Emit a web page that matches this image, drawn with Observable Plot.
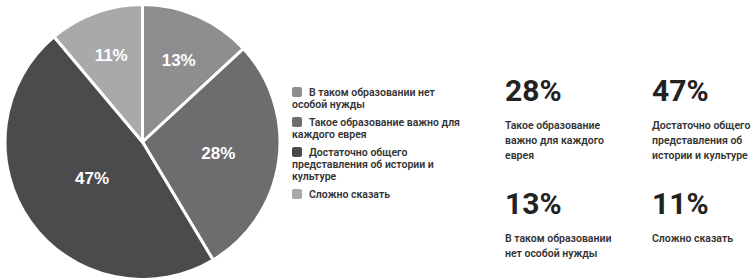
<!DOCTYPE html>
<html>
<head>
<meta charset="utf-8">
<script src="https://cdn.jsdelivr.net/npm/d3@7"></script>
<script src="https://cdn.jsdelivr.net/npm/@observablehq/plot@0.6"></script>
<style>
  html, body { margin: 0; padding: 0; background: #fff; }
  #wrap { position: relative; width: 755px; height: 278px; overflow: hidden; font-family: Roboto, "Noto Sans", sans-serif; }
  #pie { position: absolute; left: 0; top: 0; }
  #legend { position: absolute; left: 292px; top: 87px; width: 190px; }
  .li { font-size: 10.5px; line-height: 12px; font-weight: 600; color: #333; white-space: pre; margin-bottom: 6px; }
  .sw { display: inline-block; width: 10px; height: 10px; border-radius: 2px; margin-right: 7px; vertical-align: -1px; }
  .card { position: absolute; }
  .num { font-size: 30px; line-height: 30px; font-weight: 700; color: #222; }
  .desc { font-size: 10.5px; line-height: 15px; font-weight: 600; color: #333; white-space: pre; margin-top: 12px; }
</style>
</head>
<body>
<div id="wrap">
  <div id="pie"></div>
  <div id="legend"></div>
</div>
<script>
// ---- data ----
const categories = [
  "В таком образовании нет особой нужды",
  "Такое образование важно для каждого еврея",
  "Достаточно общего представления об истории и культуре",
  "Сложно сказать"
];
const values = [13, 28, 47, 11];
const colors = ["#8e8e90", "#6d6d6f", "#4b4b4d", "#a9a9ab"];
const legendLines = [
  "В таком образовании нет\nособой нужды",
  "Такое образование важно для\nкаждого еврея",
  "Достаточно общего\nпредставления об истории и\nкультуре",
  "Сложно сказать"
];
const cardLines = [
  "В таком образовании\nнет особой нужды",
  "Такое образование\nважно для каждого\nеврея",
  "Достаточно общего\nпредставления об\nистории и культуре",
  "Сложно сказать"
];
const cardOrder = [1, 2, 0, 3];
const cardPos = [[505, 75.5], [652, 75.5], [505, 189], [652, 189]];
const labelR = [0.655, 0.56, 0.46, 0.684];

// ---- pie ----
const arcs = d3.pie().sort(null).value(d => d)(values);
const labels = arcs.map((a, i) => {
  const m = (a.startAngle + a.endAngle) / 2;
  return { text: values[i] + "%", x: labelR[i] * Math.sin(m), y: labelR[i] * Math.cos(m) };
});

function pieRender(index, scales) {
  const cx = scales.x(0), cy = scales.y(0), R = scales.x(1) - cx + 1.5;
  const arc = d3.arc().innerRadius(0).outerRadius(R);
  const g = d3.create("svg:g").attr("transform", `translate(${cx},${cy})`);
  g.selectAll("path").data(arcs).join("path")
    .attr("d", arc)
    .attr("fill", (d, i) => colors[i])
    .attr("stroke", "white")
    .attr("stroke-width", 3)
    .attr("stroke-linejoin", "round");
  return g.node();
}

const chart = Plot.plot({
  width: 290,
  height: 278,
  margin: 0,
  x: { domain: [-1, 1], range: [6.5, 278.5], axis: null },
  y: { domain: [-1, 1], range: [278, 6], axis: null },
  style: { background: "white" },
  marks: [
    pieRender,
    Plot.text(labels, {
      x: "x", y: "y", text: "text",
      fill: "white", fontSize: 17, fontWeight: "bold",
      fontFamily: "Liberation Sans, Arial, sans-serif"
    })
  ]
});
document.getElementById("pie").appendChild(chart);

// ---- legend ----
const legend = d3.select("#legend");
categories.forEach((c, i) => {
  const row = legend.append("div").attr("class", "li").attr("title", c);
  row.append("span").attr("class", "sw").style("background", colors[i]);
  row.append("span").text(legendLines[i]);
});

// ---- cards ----
const wrap = d3.select("#wrap");
cardOrder.forEach((k, j) => {
  const card = wrap.append("div").attr("class", "card")
    .style("left", cardPos[j][0] + "px").style("top", cardPos[j][1] + "px");
  card.append("div").attr("class", "num").text(values[k] + "%");
  card.append("div").attr("class", "desc").text(cardLines[k]);
});
</script>
</body>
</html>
